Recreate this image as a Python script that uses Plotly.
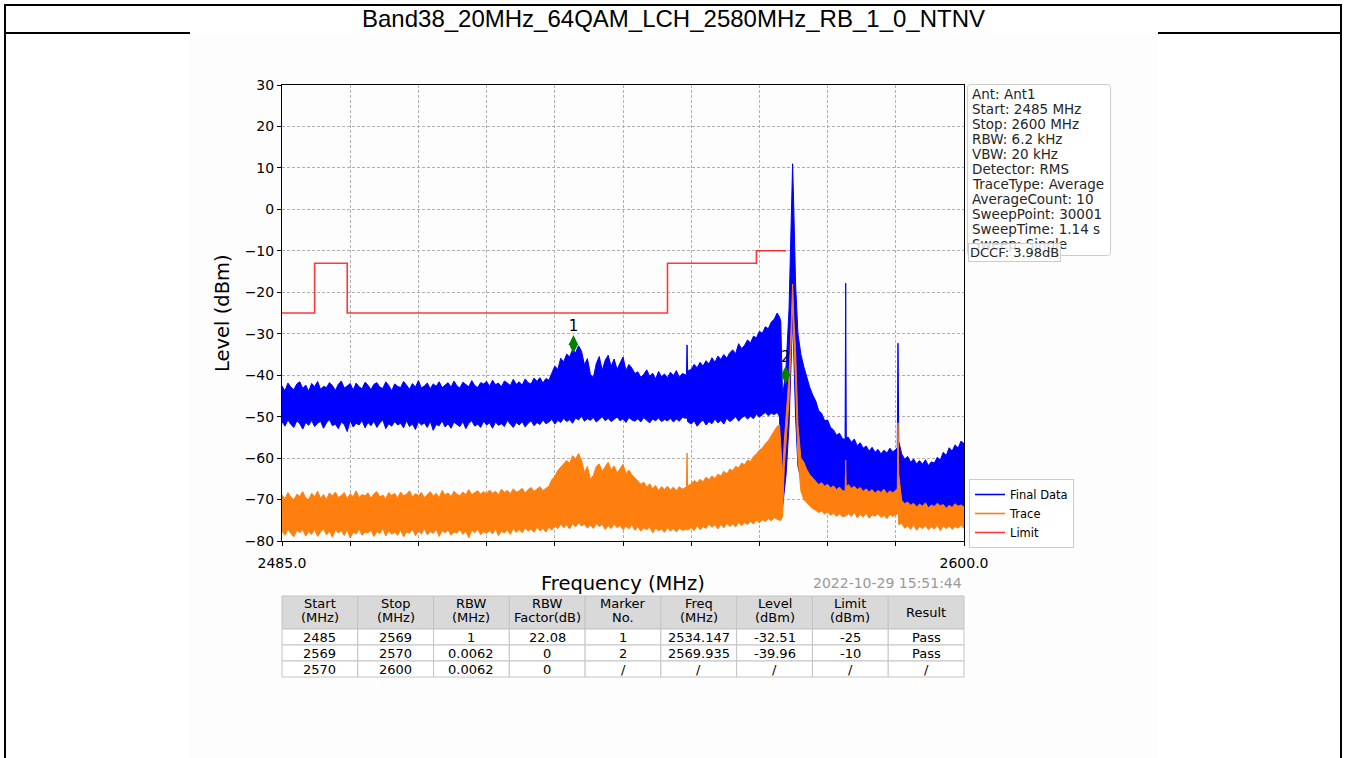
import plotly.graph_objects as go

W, H = 1345, 758


def fx(p):
    """pixel column -> paper x"""
    return p / W


def fy(p):
    """pixel row -> paper y"""
    return 1 - p / H


# ---------------- spectrum envelopes (MHz / dBm) ----------------
freq = [
    # 2485.0 - 2552.5
    2485.0, 2485.5, 2486.0, 2486.5, 2487.0, 2487.5, 2488.0, 2488.5, 2489.0, 2489.5,
    2490.0, 2490.5, 2491.0, 2491.5, 2492.0, 2492.5, 2493.0, 2493.5, 2494.0, 2494.5,
    2495.0, 2495.5, 2496.0, 2496.5, 2497.0, 2497.5, 2498.0, 2498.5, 2499.0, 2499.5,
    2500.0, 2500.5, 2501.0, 2501.5, 2502.0, 2502.5, 2503.0, 2503.5, 2504.0, 2504.5,
    2505.0, 2505.5, 2506.0, 2506.5, 2507.0, 2507.5, 2508.0, 2508.5, 2509.0, 2509.5,
    2510.0, 2510.5, 2511.0, 2511.5, 2512.0, 2512.5, 2513.0, 2513.5, 2514.0, 2514.5,
    2515.0, 2515.5, 2516.0, 2516.5, 2517.0, 2517.5, 2518.0, 2518.5, 2519.0, 2519.5,
    2520.0, 2520.5, 2521.0, 2521.5, 2522.0, 2522.5, 2523.0, 2523.5, 2524.0, 2524.5,
    2525.0, 2525.5, 2526.0, 2526.5, 2527.0, 2527.5, 2528.0, 2528.5, 2529.0, 2529.5,
    2530.0, 2530.5, 2531.0, 2531.5, 2532.0, 2532.5, 2533.0, 2533.5, 2534.0, 2534.5,
    2535.0, 2535.5, 2536.0, 2536.5, 2537.0, 2537.5, 2538.0, 2538.5, 2539.0, 2539.5,
    2540.0, 2540.5, 2541.0, 2541.5, 2542.0, 2542.5, 2543.0, 2543.5, 2544.0, 2544.5,
    2545.0, 2545.5, 2546.0, 2546.5, 2547.0, 2547.5, 2548.0, 2548.5, 2549.0, 2549.5,
    2550.0, 2550.5, 2551.0, 2551.5, 2552.0, 2552.5,
    # spur
    2553.2, 2553.3, 2553.4,
    # 2554.0 - 2568.5
    2554.0, 2554.5, 2555.0, 2555.5, 2556.0, 2556.5, 2557.0, 2557.5, 2558.0, 2558.5,
    2559.0, 2559.5, 2560.0, 2560.5, 2561.0, 2561.5, 2562.0, 2562.5, 2563.0, 2563.5,
    2564.0, 2564.5, 2565.0, 2565.5, 2566.0, 2566.5, 2567.0, 2567.5, 2568.0, 2568.5,
    # carrier
    2568.9, 2569.1, 2569.4, 2569.7, 2570.0, 2570.5, 2570.8, 2571.0, 2571.1, 2571.3,
    2571.6, 2572.0, 2572.5,
    # 2573.0 - 2579.5
    2573.0, 2573.5, 2574.0, 2574.5, 2575.0, 2575.5, 2576.0, 2576.5, 2577.0, 2577.5,
    2578.0, 2578.5, 2579.0, 2579.5,
    # spur
    2579.95, 2580.05, 2580.15,
    # 2580.5 - 2588.5
    2580.5, 2581.0, 2581.5, 2582.0, 2582.5, 2583.0, 2583.5, 2584.0, 2584.5, 2585.0,
    2585.5, 2586.0, 2586.5, 2587.0, 2587.5, 2588.0, 2588.5,
    # spur
    2588.75, 2588.87, 2589.0,
    # 2589.5 - 2600.0
    2589.5, 2590.0, 2590.5, 2591.0, 2591.5, 2592.0, 2592.5, 2593.0, 2593.5, 2594.0,
    2594.5, 2595.0, 2595.5, 2596.0, 2596.5, 2597.0, 2597.5, 2598.0, 2598.5, 2599.0,
    2599.5, 2600.0,
]

final_hi = [
    -42.6, -43.8, -41.9, -42.9, -43.5, -42.1, -41.6, -43.2, -42.4, -43.9,
    -42.0, -42.8, -41.5, -43.4, -42.7, -43.0, -41.8, -42.5, -43.7, -42.2,
    -41.4, -43.1, -42.6, -42.0, -43.6, -41.9, -42.8, -43.3, -41.7, -42.4,
    -43.5, -42.2, -41.8, -42.9, -43.2, -41.6, -42.5, -43.8, -42.1, -42.7,
    -43.0, -41.5, -42.4, -43.4, -42.0, -42.9, -41.3, -43.1, -42.6, -41.9,
    -43.3, -42.1, -42.7, -41.6, -43.0, -42.3, -41.8, -42.9, -41.4, -42.6,
    -43.1, -41.7, -42.2, -42.8, -41.3, -42.5, -43.0, -41.8, -42.1, -41.5,
    -42.7, -41.2, -42.3, -41.9, -42.8, -41.4, -41.9, -42.5, -41.0, -42.2,
    -41.6, -42.4, -40.9, -41.8, -42.1, -40.7, -41.5, -40.6, -41.9, -40.8,
    -41.2, -39.5, -37.8, -38.6, -35.9, -36.8, -34.9, -35.6, -33.8, -34.6,
    -32.9, -34.2, -37.5, -36.0, -39.8, -40.6, -37.2, -35.5, -38.8, -36.4,
    -35.2, -37.9, -36.1, -38.6, -37.0, -35.6, -38.9, -37.4, -38.3, -39.6,
    -39.2, -40.5, -39.8, -38.7, -40.3, -39.5, -40.9, -39.1, -40.4, -39.7,
    -40.6, -39.3, -40.1, -38.9, -40.5, -39.6,
    -40.0, -32.7, -39.0,
    -38.6, -37.4, -38.2, -36.9, -37.8, -36.5, -37.3, -35.8, -36.9, -35.4,
    -36.2, -35.0, -35.9, -34.6, -33.9, -34.8, -32.4, -33.6, -32.8, -31.5,
    -32.2, -30.6, -31.0, -29.4, -29.9, -28.3, -28.8, -27.2, -26.5, -25.0,
    -26.0, -27.0, -45.0, -42.0, -38.0, -24.0, -8.0, 2.0, 11.0, 0.0,
    -18.0, -30.0, -35.0,
    -38.0, -40.5, -43.0, -44.8, -46.2, -48.6, -49.2, -51.0, -50.8, -52.6,
    -53.2, -54.5, -54.0, -55.3,
    -55.5, -17.8, -55.0,
    -55.0, -56.2, -55.4, -57.0, -56.3, -57.6, -57.1, -58.3, -57.4, -58.6,
    -57.9, -59.0, -58.1, -58.8, -57.6, -58.5, -57.9,
    -57.5, -32.3, -56.0,
    -59.0, -60.3, -59.6, -61.0, -60.2, -61.4, -60.6, -61.5, -60.4, -61.8,
    -60.9, -61.2, -59.8, -60.5, -58.6, -59.4, -57.5, -58.3, -56.8, -57.6,
    -55.9, -56.5,
]

final_lo = [
    -51.2, -52.3, -50.8, -51.9, -52.6, -51.0, -51.7, -53.0, -51.4, -52.1,
    -50.9, -52.4, -51.6, -51.1, -52.8, -51.5, -50.7, -52.2, -51.8, -52.9,
    -51.3, -51.9, -53.6, -51.0, -52.5, -51.6, -52.0, -50.9, -52.7, -51.4,
    -52.2, -51.1, -52.6, -51.5, -50.8, -52.9, -51.7, -52.3, -51.2, -52.0,
    -51.6, -52.7, -51.0, -52.4, -51.8, -53.1, -51.3, -52.0, -51.5, -52.6,
    -51.1, -53.3, -51.9, -52.2, -51.0, -52.5, -51.7, -52.8, -51.3, -51.9,
    -52.4, -51.2, -52.9, -51.6, -51.0, -52.3, -51.8, -52.6, -51.1, -52.0,
    -51.5, -52.8, -51.3, -52.1, -51.7, -52.4, -50.9, -51.8, -52.6, -51.4,
    -52.0, -51.2, -52.5, -51.6, -51.0, -52.2, -51.4, -51.9, -50.8, -51.7,
    -51.3, -50.6, -51.8, -50.9, -51.4, -50.4, -51.2, -50.7, -51.6, -50.3,
    -50.8, -49.9, -51.1, -50.5, -50.9, -50.2, -51.3, -50.6, -50.0, -51.0,
    -50.4, -51.2, -50.7, -50.1, -51.0, -50.5, -51.4, -50.2, -50.8, -51.1,
    -50.5, -51.3, -50.2, -50.9, -51.5, -50.6, -51.0, -50.3, -51.2, -50.7,
    -51.0, -50.4, -51.3, -50.6, -51.1, -50.2,
    -50.4, -49.0, -51.2,
    -51.8, -51.0, -52.3, -51.4, -50.8, -52.0, -51.2, -51.7, -50.6, -51.5,
    -50.9, -51.8, -50.4, -51.2, -50.7, -50.0, -51.1, -50.3, -49.8, -50.6,
    -49.9, -50.5, -49.4, -50.1, -49.6, -49.0, -49.8, -49.2, -49.5, -49.0,
    -50.0, -72.0, -72.0, -68.0, -64.0, -52.0, -40.0, -30.0, -25.0, -35.0,
    -50.0, -62.0, -65.0,
    -66.5, -67.2, -67.8, -68.4, -68.0, -68.9, -68.5, -69.3, -68.7, -69.5,
    -68.9, -69.6, -69.1, -69.4,
    -69.0, -66.0, -69.2,
    -69.3, -69.8, -69.1, -70.0, -69.4, -69.9, -69.2, -70.1, -69.5, -69.8,
    -69.3, -70.2, -69.6, -69.9, -69.4, -70.0, -69.5,
    -69.0, -62.0, -72.0,
    -72.2, -72.8, -72.0, -72.6, -72.3, -73.0, -72.1, -72.7, -72.4, -72.9,
    -72.2, -72.8, -72.0, -72.6, -72.3, -72.9, -72.1, -72.7, -72.4, -72.8,
    -72.2, -72.6,
]

trace_hi = [
    -68.9, -69.8, -68.3, -69.4, -70.1, -68.7, -69.2, -68.1, -69.6, -70.0,
    -68.5, -69.3, -68.0, -69.7, -68.8, -69.9, -68.4, -69.1, -68.2, -69.5,
    -69.0, -68.3, -69.8, -68.6, -69.3, -67.9, -69.5, -68.8, -69.1, -68.4,
    -69.7, -68.6, -68.1, -69.4, -68.9, -69.8, -68.3, -69.0, -68.5, -69.6,
    -68.2, -69.1, -68.7, -67.9, -69.4, -68.6, -69.0, -68.3, -69.5, -68.8,
    -68.1, -69.2, -68.5, -69.6, -67.8, -68.9, -68.4, -69.3, -68.0, -68.7,
    -69.1, -68.2, -68.8, -67.6, -68.9, -68.3, -67.9, -68.7, -68.1, -68.6,
    -67.7, -68.5, -68.0, -68.9, -67.5, -68.3, -67.8, -68.6, -67.4, -68.2,
    -67.9, -67.3, -68.4, -67.6, -67.1, -68.0, -67.5, -66.9, -67.8, -67.2,
    -66.8, -65.2, -64.4, -63.0, -62.2, -61.5, -60.6, -61.3, -59.4, -60.2,
    -58.9, -60.5, -63.5, -62.0, -65.1, -64.2, -62.0, -61.4, -63.2, -62.1,
    -61.0, -62.8, -61.9, -63.6, -62.4, -61.5, -63.8, -62.9, -64.0, -64.8,
    -65.4, -66.3, -65.8, -67.0, -66.2, -67.4, -66.6, -67.8, -66.9, -67.5,
    -66.8, -67.7, -67.0, -67.9, -66.9, -67.5,
    -67.0, -58.8, -66.8,
    -66.2, -65.4, -66.0, -65.1, -65.7, -64.6, -65.2, -64.3, -64.9, -63.9,
    -64.3, -63.2, -63.8, -62.7, -63.0, -62.0, -62.4, -61.2, -61.6, -60.5,
    -60.8, -59.6, -59.0, -58.1, -57.6, -56.5, -55.8, -54.6, -53.6, -52.3,
    -52.0, -58.0, -64.0, -56.0, -50.0, -40.0, -30.0, -20.0, -18.0, -26.0,
    -34.0, -52.0, -60.0,
    -61.0, -62.8, -64.0, -64.9, -65.6, -66.4, -65.9, -66.8, -66.3, -67.2,
    -66.7, -67.6, -67.0, -67.8,
    -68.0, -60.5, -67.0,
    -66.4, -67.3, -66.8, -67.6, -67.1, -68.0, -67.4, -68.2, -67.6, -68.5,
    -67.8, -68.3, -67.5, -68.6, -67.9, -68.4, -67.7,
    -67.5, -51.5, -64.0,
    -70.2, -71.0, -70.6, -71.4, -70.9, -71.8, -71.1, -71.6, -70.8, -72.0,
    -71.3, -71.7, -70.9, -71.5, -71.2, -72.1, -71.4, -71.9, -71.0, -71.6,
    -71.3, -71.8,
]

trace_lo = [
    -77.6, -78.6, -77.1, -78.2, -79.0, -77.4, -78.0, -77.3, -78.8, -77.7,
    -78.4, -77.2, -78.9, -77.8, -77.0, -78.5, -77.6, -79.1, -77.3, -78.1,
    -77.5, -78.7, -77.2, -79.3, -77.9, -78.3, -77.1, -78.6, -77.8, -78.0,
    -77.4, -78.9, -77.7, -78.2, -77.0, -78.8, -77.5, -78.4, -77.9, -78.6,
    -77.3, -79.0, -77.8, -78.1, -77.2, -78.7, -77.6, -78.3, -77.0, -78.5,
    -77.7, -78.2, -77.1, -78.9, -77.5, -78.0, -77.3, -78.6, -77.8, -78.1,
    -77.2, -78.4, -77.6, -79.2, -77.4, -78.0, -77.1, -78.5, -77.7, -78.2,
    -77.5, -78.3, -77.0, -78.7, -77.6, -78.1, -77.3, -78.4, -76.9, -77.9,
    -77.2, -78.0, -76.8, -77.6, -77.1, -77.9, -76.7, -77.5, -77.0, -77.8,
    -76.6, -77.4, -76.3, -77.0, -75.9, -76.8, -76.1, -77.1, -75.8, -76.6,
    -75.6, -76.4, -75.9, -76.9, -76.2, -77.0, -75.8, -76.5, -76.0, -77.2,
    -76.3, -77.0, -75.9, -76.8, -76.2, -77.3, -76.4, -77.1, -76.0, -77.4,
    -76.5, -77.6, -76.8, -77.3, -76.6, -78.0, -76.9, -77.5, -77.1, -77.9,
    -76.8, -77.6, -77.0, -77.8, -76.9, -77.4,
    -77.2, -76.0, -77.4,
    -76.8, -77.5, -76.2, -77.3, -76.5, -77.0, -75.9, -76.7, -76.1, -77.1,
    -76.0, -76.8, -75.7, -76.5, -75.9, -76.6, -75.5, -76.3, -75.6, -76.0,
    -75.3, -75.9, -75.0, -75.6, -74.9, -75.3, -74.6, -75.1, -74.4, -74.8,
    -75.0, -75.0, -74.0, -62.0, -56.0, -46.0, -36.0, -26.0, -24.0, -32.0,
    -42.0, -60.0, -68.0,
    -70.0, -70.8, -71.5, -72.2, -72.6, -73.1, -72.8, -73.5, -73.0, -73.8,
    -73.3, -74.0, -73.5, -74.1,
    -74.0, -72.0, -74.0,
    -73.4, -74.1, -73.0, -74.4, -73.6, -74.2, -73.3, -74.5, -73.7, -74.0,
    -73.4, -74.3, -73.8, -74.6, -73.5, -74.1, -73.6,
    -73.5, -70.0, -76.0,
    -75.8, -76.9, -76.3, -77.2, -76.0, -77.4, -76.5, -77.0, -76.2, -77.3,
    -76.6, -77.1, -76.1, -77.5, -76.4, -77.0, -76.3, -77.2, -76.5, -76.9,
    -76.2, -77.0,
]

# ---------------- limit mask ----------------
limit_start = [2485, 2490.5, 2496, 2550, 2565]
limit_level = [-25, -13, -25, -13, -10]
limit_stop = 2570

# ---------------- markers ----------------
marker_no = ["1", "2"]
marker_freq = [2534.147, 2569.935]
marker_level = [-32.51, -39.96]

# ---------------- axes ----------------
x_tick_vals = [2485.0, 2496.5, 2508.0, 2519.5, 2531.0, 2542.5,
               2554.0, 2565.5, 2577.0, 2588.5, 2600.0]
x_tick_text = ["2485.0", "", "", "", "", "", "", "", "", "", "2600.0"]
y_tick_vals = [-80, -70, -60, -50, -40, -30, -20, -10, 0, 10, 20, 30]

# ---------------- sweep settings box ----------------
info_lines = ["Ant: Ant1", "Start: 2485 MHz", "Stop: 2600 MHz", "RBW: 6.2 kHz",
              "VBW: 20 kHz", "Detector: RMS", "TraceType: Average",
              "AverageCount: 10", "SweepPoint: 30001", "SweepTime: 1.14 s",
              "Sweep: Single"]
dccf_text = "DCCF: 3.98dB"

# ---------------- result table ----------------
tbl_headers = [["Start", "(MHz)"], ["Stop", "(MHz)"], ["RBW", "(MHz)"],
               ["RBW", "Factor(dB)"], ["Marker", "No."], ["Freq", "(MHz)"],
               ["Level", "(dBm)"], ["Limit", "(dBm)"], ["Result"]]
tbl_start = ["2485", "2569", "2570"]
tbl_stop = ["2569", "2570", "2600"]
tbl_rbw = ["1", "0.0062", "0.0062"]
tbl_factor = ["22.08", "0", "0"]
tbl_marker = marker_no + ["/"]
tbl_freq = [f"{v:.3f}" for v in marker_freq] + ["/"]
tbl_level = [f"{v:.2f}" for v in marker_level] + ["/"]
tbl_limit = ["-25", "-10", "/"]
tbl_result = ["Pass", "Pass", "/"]

title_text = "Band38_20MHz_64QAM_LCH_2580MHz_RB_1_0_NTNV"
timestamp = "2022-10-29 15:51:44"

BLUE = "#0000ff"
ORANGE = "#ff7f0e"
RED = "rgba(255,0,0,0.78)"
MPL_FONT = "DejaVu Sans"

fig = go.Figure()

# measured bands (filled envelope between upper and lower edge)
fig.add_trace(go.Scatter(
    x=freq + freq[::-1], y=final_hi + final_lo[::-1],
    mode="lines", fill="toself", fillcolor=BLUE,
    line=dict(color=BLUE, width=1), showlegend=False, hoverinfo="skip"))
fig.add_trace(go.Scatter(
    x=freq + freq[::-1], y=trace_hi + trace_lo[::-1],
    mode="lines", fill="toself", fillcolor=ORANGE,
    line=dict(color=ORANGE, width=1), showlegend=False, hoverinfo="skip"))

# limit mask as a step line
fig.add_trace(go.Scatter(
    x=limit_start + [limit_stop], y=limit_level + [limit_level[-1]],
    mode="lines", line=dict(color=RED, width=1.6, shape="hv"),
    name="Limit", legendrank=3, hoverinfo="skip"))

# legend keys for the two filled traces
fig.add_trace(go.Scatter(x=[None], y=[None], mode="lines",
                         line=dict(color=BLUE, width=1.6),
                         name="Final Data", legendrank=1))
fig.add_trace(go.Scatter(x=[None], y=[None], mode="lines",
                         line=dict(color=ORANGE, width=1.6),
                         name="Trace", legendrank=2))

# peak markers
fig.add_trace(go.Scatter(
    x=marker_freq, y=marker_level, mode="markers+text",
    marker=dict(symbol="diamond-tall", size=13, color="#008000"),
    text=marker_no, textposition="top center",
    textfont=dict(family=MPL_FONT, size=15, color="black"),
    showlegend=False, hoverinfo="skip"))

axis_common = dict(
    showgrid=True, gridcolor="#b0b0b0", gridwidth=0.8, griddash="3px,2px",
    showline=True, linecolor="black", linewidth=1, mirror=True,
    ticks="outside", ticklen=4, tickcolor="black", zeroline=False,
    automargin=False,
    tickfont=dict(family=MPL_FONT, size=14, color="black"),
)

fig.update_layout(
    width=W, height=H,
    margin=dict(l=0, r=0, t=0, b=0, pad=0, autoexpand=False),
    paper_bgcolor="white", plot_bgcolor="white",
    xaxis=dict(domain=[fx(282), fx(964)], range=[2485, 2600],
               tickmode="array", tickvals=x_tick_vals, ticktext=x_tick_text,
               ticklabelstandoff=5, **axis_common),
    yaxis=dict(domain=[fy(541), fy(85)], range=[-80, 30],
               tickmode="array", tickvals=y_tick_vals, **axis_common),
    legend=dict(x=fx(969), y=fy(479), xanchor="left", yanchor="top",
                bgcolor="rgba(255,255,255,0.85)", bordercolor="#cccccc",
                borderwidth=1, itemwidth=30, tracegroupgap=0,
                font=dict(family=MPL_FONT, size=11.5, color="black")),
    showlegend=True,
)


def rrect(x0, y0, x1, y1, r):
    """rounded rectangle path in paper units from pixel corners"""
    rx, ry = r / W, r / H
    X0, X1, Y0, Y1 = fx(x0), fx(x1), fy(y0), fy(y1)
    return (f"M {X0 + rx},{Y0} L {X1 - rx},{Y0} Q {X1},{Y0} {X1},{Y0 - ry} "
            f"L {X1},{Y1 + ry} Q {X1},{Y1} {X1 - rx},{Y1} "
            f"L {X0 + rx},{Y1} Q {X0},{Y1} {X0},{Y1 + ry} "
            f"L {X0},{Y0 - ry} Q {X0},{Y0} {X0 + rx},{Y0} Z")


shapes = [
    # report frame and title separator
    dict(type="rect", xref="paper", yref="paper", x0=fx(5), y0=fy(5),
         x1=fx(1341), y1=fy(770), line=dict(color="black", width=2),
         layer="below"),
    dict(type="rect", xref="paper", yref="paper", x0=fx(190), y0=fy(34),
         x1=fx(1158), y1=fy(770), fillcolor="#fdfdfd", line=dict(width=0),
         layer="below"),
    dict(type="line", xref="paper", yref="paper", x0=fx(5), y0=fy(33),
         x1=fx(190), y1=fy(33), line=dict(color="black", width=2)),
    dict(type="line", xref="paper", yref="paper", x0=fx(1158), y0=fy(33),
         x1=fx(1341), y1=fy(33), line=dict(color="black", width=2)),
    # sweep settings box
    dict(type="path", xref="paper", yref="paper",
         path=rrect(967.5, 84.5, 1110.5, 255.5, 3),
         fillcolor="rgba(255,255,255,0.85)", line=dict(color="#cccccc", width=1)),
]

annotations = [
    dict(text=title_text, x=fx(673), y=fy(19), xref="paper", yref="paper",
         showarrow=False, xanchor="center", yanchor="middle",
         font=dict(family="Liberation Sans, Arial", size=24, color="black")),
    dict(text="Frequency (MHz)", x=fx(623), y=fy(583), xref="paper",
         yref="paper", showarrow=False, xanchor="center", yanchor="middle",
         font=dict(family=MPL_FONT, size=19.5, color="black")),
    dict(text="Level (dBm)", x=fx(222), y=fy(313), xref="paper", yref="paper",
         showarrow=False, textangle=-90, xanchor="center", yanchor="middle",
         font=dict(family=MPL_FONT, size=19.5, color="black")),
    dict(text=timestamp, x=fx(964), y=fy(583), xref="paper", yref="paper",
         showarrow=False, xanchor="right", yanchor="middle",
         font=dict(family=MPL_FONT, size=14, color="#999999")),
]

for i, line in enumerate(info_lines):
    annotations.append(dict(
        text=line, x=fx(970), y=fy(94 + 15 * i), xref="paper", yref="paper",
        showarrow=False, xanchor="left", yanchor="middle",
        font=dict(family=MPL_FONT, size=13.5, color="#262626")))

annotations.append(dict(
    text=dccf_text, x=fx(968), y=fy(243), xref="paper", yref="paper",
    showarrow=False, xanchor="left", yanchor="top", align="left",
    bgcolor="rgba(255,255,255,0.8)", bordercolor="#cccccc", borderwidth=1,
    borderpad=1, font=dict(family=MPL_FONT, size=13, color="#262626")))

# result table: header + body cells
col_x = [282 + i * (964 - 282) / 9 for i in range(10)]
row_y = [596, 629, 645, 661, 677]
body_cols = [tbl_start, tbl_stop, tbl_rbw, tbl_factor, tbl_marker,
             tbl_freq, tbl_level, tbl_limit, tbl_result]
TBL_LINE = "#c4c4c4"
TBL_FONT = dict(family=MPL_FONT, size=13, color="black")

for c in range(9):
    xa, xb = col_x[c], col_x[c + 1]
    xc = (xa + xb) / 2
    shapes.append(dict(type="rect", xref="paper", yref="paper",
                       x0=fx(xa), x1=fx(xb), y0=fy(row_y[0]), y1=fy(row_y[1]),
                       fillcolor="#d9d9d9", line=dict(color=TBL_LINE, width=1)))
    head = tbl_headers[c]
    ys = [603, 617] if len(head) == 2 else [612]
    for txt, yy in zip(head, ys):
        annotations.append(dict(text=txt, x=fx(xc), y=fy(yy), xref="paper",
                                yref="paper", showarrow=False,
                                xanchor="center", yanchor="middle",
                                font=TBL_FONT))
    for r in range(3):
        ya, yb = row_y[r + 1], row_y[r + 2]
        shapes.append(dict(type="rect", xref="paper", yref="paper",
                           x0=fx(xa), x1=fx(xb), y0=fy(ya), y1=fy(yb),
                           fillcolor="white", line=dict(color=TBL_LINE, width=1)))
        annotations.append(dict(text=body_cols[c][r], x=fx(xc),
                                y=fy((ya + yb) / 2), xref="paper", yref="paper",
                                showarrow=False, xanchor="center",
                                yanchor="middle", font=TBL_FONT))

fig.update_layout(shapes=shapes, annotations=annotations)

fig.write_html("out.html")
